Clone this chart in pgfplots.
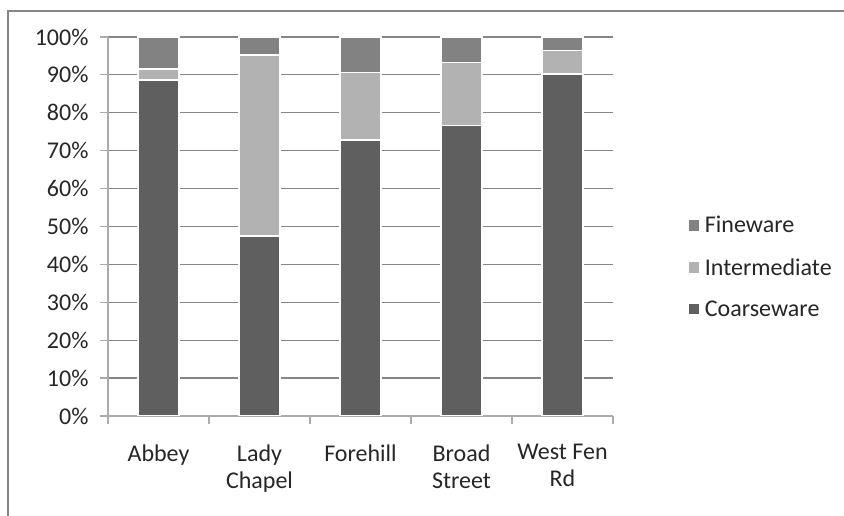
\documentclass[border=0pt]{standalone}
\usepackage{pgfplots}
\pgfplotsset{compat=1.18}
\usepackage{fontspec}
\setmainfont{Carlito}

\definecolor{coarse}{HTML}{5F5F5F}
\definecolor{inter}{HTML}{B2B2B2}
\definecolor{fine}{HTML}{828282}
\definecolor{gridc}{HTML}{868686}
\definecolor{axisc}{HTML}{ABABAB}

\begin{document}
\begin{tikzpicture}
\useasboundingbox (-108pt,-100pt) rectangle (736pt,416pt);
% chart area frame, cut by the page edge at right and bottom
\draw[gridc, line width=2pt] (-100pt,-200pt) -- (-100pt,405pt) -- (800pt,405pt);
\begin{axis}[
    at={(0,0)}, anchor=south west,
    scale only axis,
    width=505pt, height=379pt,
    ybar stacked,
    bar width=41pt,
    xmin=0.5, xmax=5.5,
    ymin=0, ymax=100,
    font=\fontsize{24}{27}\selectfont,
    /pgf/number format/assume math mode=true,
    ytick={0,10,...,100},
    yticklabel={\pgfmathprintnumber{\tick}\%},
    xtick={0.5,1.5,...,5.5},
    xticklabels={},
    extra x ticks={1,2,3,4,5},
    extra x tick labels={Abbey, Lady\\Chapel, Forehill, Broad\\Street, West Fen\\Rd},
    extra x tick style={major tick length=0pt, grid=none,
        tick label style={align=center, anchor=north, yshift=-25pt}},
    ymajorgrids,
    grid style={gridc, line width=1.2pt},
    axis line style={axisc, line width=1.5pt},
    axis x line*=bottom,
    axis y line*=left,
    tick style={axisc, line width=1.2pt},
    major tick length=8pt,
    tick align=outside,
    yticklabel style={xshift=-8pt, text=black!85},
    xticklabel style={text=black!85},
    reverse legend,
    legend cell align=left,
    legend style={draw=none, at={(1.147,0.393)}, anchor=west,
        row sep=20pt, inner sep=0pt, text=black!85,
        nodes={inner xsep=4pt}},
    legend image code/.code={\fill[#1] (0pt,-6pt) rectangle (12pt,6pt);},
]
\addplot[fill=coarse, draw=white, line width=1.5pt] coordinates {(1,88.7) (2,47.5) (3,72.8) (4,76.6) (5,90.3)};
\addlegendentry{Coarseware}
\addplot[fill=inter, draw=white, line width=1.5pt] coordinates {(1,2.8) (2,47.7) (3,17.8) (4,16.7) (5,6.1)};
\addlegendentry{Intermediate}
\addplot[fill=fine, draw=white, line width=1.5pt] coordinates {(1,8.5) (2,4.8) (3,9.4) (4,6.7) (5,3.6)};
\addlegendentry{Fineware}
\end{axis}
\end{tikzpicture}
\end{document}
